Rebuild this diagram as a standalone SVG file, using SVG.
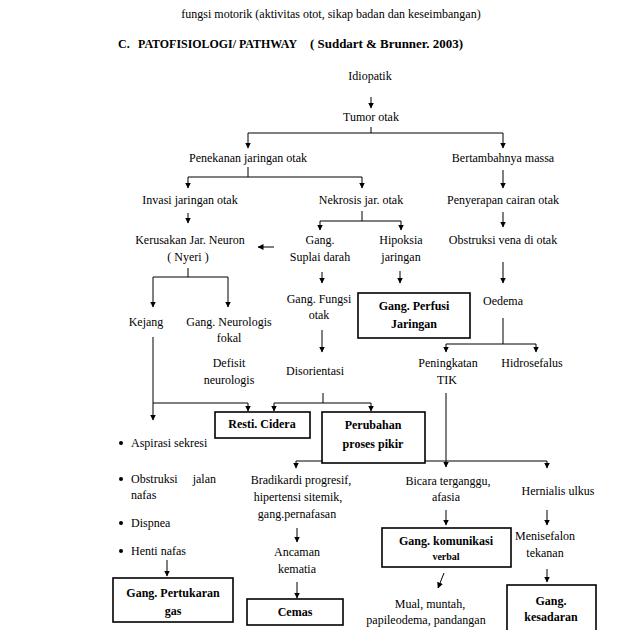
<svg xmlns="http://www.w3.org/2000/svg" width="638" height="630" viewBox="0 0 638 630">
<defs>
<marker id="ah" markerUnits="userSpaceOnUse" markerWidth="6" markerHeight="6" refX="5.5" refY="3" orient="auto"><path d="M0,0 L6,3 L0,6 z" fill="#000"/></marker>
<style>
text{font-family:"Liberation Serif","Times New Roman",serif;font-size:12px;fill:#000}
.c{text-anchor:middle}
.b{font-weight:bold}
.box{fill:#fff;stroke:#000;stroke-width:1.6}
.ln{stroke:#000;stroke-width:1;fill:none}
.ar{stroke:#000;stroke-width:1;fill:none;marker-end:url(#ah)}
</style>
</defs>
<rect width="638" height="630" fill="#fff"/>
<text x="331" y="18" class="c">fungsi motorik (aktivitas otot, sikap badan dan keseimbangan)</text>
<g id="title">
<text x="118" y="48" class="b">C.</text>
<text x="138" y="48" class="b" textLength="159" lengthAdjust="spacingAndGlyphs">PATOFISIOLOGI/ PATHWAY</text>
<text x="310" y="48" class="b" textLength="153" lengthAdjust="spacingAndGlyphs">( Suddart &amp; Brunner. 2003)</text>
</g>

<g id="connectors">
<line class="ar" x1="371" y1="97" x2="371" y2="108"/>
<polyline class="ln" points="371,127 371,133"/>
<line class="ln" x1="248" y1="133" x2="503" y2="133"/>
<line class="ar" x1="248" y1="133" x2="248" y2="148"/>
<line class="ar" x1="503" y1="133" x2="503" y2="148"/>
<line class="ln" x1="248" y1="167" x2="248" y2="177"/>
<line class="ln" x1="188" y1="177" x2="362" y2="177"/>
<line class="ar" x1="188" y1="177" x2="188" y2="188"/>
<line class="ar" x1="362" y1="177" x2="362" y2="188"/>
<line class="ar" x1="503" y1="170" x2="503" y2="188"/>
<line class="ar" x1="188" y1="213" x2="188" y2="223"/>
<line class="ln" x1="362" y1="211" x2="362" y2="221"/>
<line class="ln" x1="320" y1="221" x2="401" y2="221"/>
<line class="ar" x1="320" y1="221" x2="320" y2="230"/>
<line class="ar" x1="401" y1="221" x2="401" y2="230"/>
<line class="ar" x1="503" y1="212" x2="503" y2="227"/>
<line class="ar" x1="274" y1="247" x2="258" y2="247"/>
<line class="ln" x1="188" y1="268" x2="188" y2="277"/>
<line class="ln" x1="153" y1="277" x2="228" y2="277"/>
<line class="ar" x1="153" y1="277" x2="153" y2="307"/>
<line class="ar" x1="228" y1="277" x2="228" y2="307"/>
<line class="ar" x1="322" y1="272" x2="322" y2="283"/>
<line class="ar" x1="400" y1="271" x2="400" y2="283"/>
<line class="ar" x1="503" y1="262" x2="503" y2="283"/>
<line class="ar" x1="322" y1="330" x2="322" y2="352"/>
<line class="ln" x1="503" y1="318" x2="503" y2="344"/>
<line class="ln" x1="446" y1="344" x2="536" y2="344"/>
<line class="ar" x1="446" y1="344" x2="446" y2="352"/>
<line class="ar" x1="536" y1="344" x2="536" y2="352"/>
<line class="ar" x1="153" y1="337" x2="153" y2="420"/>
<line class="ln" x1="153" y1="403" x2="248" y2="403"/>
<line class="ar" x1="248" y1="403" x2="248" y2="411"/>
<line class="ln" x1="323" y1="393" x2="323" y2="403"/>
<line class="ln" x1="274" y1="403" x2="371" y2="403"/>
<line class="ar" x1="274" y1="403" x2="274" y2="411"/>
<line class="ar" x1="371" y1="403" x2="371" y2="411"/>
<line class="ar" x1="446" y1="393" x2="446" y2="467"/>
<line class="ln" x1="296" y1="461" x2="547" y2="461"/>
<line class="ar" x1="296" y1="461" x2="296" y2="468"/>
<line class="ar" x1="547" y1="461" x2="547" y2="468"/>
<line class="ar" x1="167" y1="560" x2="167" y2="576"/>
<line class="ar" x1="297" y1="528" x2="297" y2="542"/>
<line class="ar" x1="297" y1="582" x2="297" y2="598"/>
<line class="ar" x1="446" y1="510" x2="446" y2="525"/>
<line class="ar" x1="444" y1="573" x2="438" y2="588"/>
<line class="ar" x1="547" y1="510" x2="547" y2="525"/>
<line class="ar" x1="547" y1="569" x2="547" y2="582"/>
</g>

<g id="idiopatik"><text x="370" y="80" class="c">Idiopatik</text></g>
<g id="tumor-otak"><text x="371" y="121" class="c">Tumor otak</text></g>
<g id="penekanan"><text x="248" y="162" class="c">Penekanan jaringan otak</text></g>
<g id="bertambahnya"><text x="503" y="162" class="c">Bertambahnya massa</text></g>
<g id="invasi"><text x="190" y="204" class="c">Invasi jaringan otak</text></g>
<g id="nekrosis"><text x="361" y="204" class="c">Nekrosis jar. otak</text></g>
<g id="penyerapan"><text x="503" y="204" class="c">Penyerapan cairan otak</text></g>
<g id="kerusakan"><text x="190" y="244" class="c">Kerusakan Jar. Neuron</text><text x="188" y="261" class="c">( Nyeri )</text></g>
<g id="suplai"><text x="320" y="244" class="c">Gang.</text><text x="320" y="261" class="c">Suplai darah</text></g>
<g id="hipoksia"><text x="401" y="244" class="c">Hipoksia</text><text x="401" y="261" class="c">jaringan</text></g>
<g id="obstruksi-vena"><text x="503" y="244" class="c">Obstruksi vena di otak</text></g>
<g id="fungsi-otak"><text x="319" y="303" class="c">Gang. Fungsi</text><text x="319" y="319" class="c">otak</text></g>
<g id="perfusi"><rect class="box" x="358" y="293" width="112" height="45"/><text x="414" y="310" class="c b">Gang. Perfusi</text><text x="414" y="328" class="c b">Jaringan</text></g>
<g id="oedema"><text x="503" y="305" class="c">Oedema</text></g>
<g id="kejang"><text x="146" y="326" class="c">Kejang</text></g>
<g id="neurologis-fokal"><text x="229" y="326" class="c">Gang. Neurologis</text><text x="229" y="342" class="c">fokal</text></g>
<g id="defisit"><text x="229" y="367" class="c">Defisit</text><text x="229" y="384" class="c">neurologis</text></g>
<g id="disorientasi"><text x="315" y="375" class="c">Disorientasi</text></g>
<g id="peningkatan-tik"><text x="448" y="367" class="c">Peningkatan</text><text x="447" y="384" class="c">TIK</text></g>
<g id="hidrosefalus"><text x="532" y="367" class="c">Hidrosefalus</text></g>
<g id="resti"><rect class="box" x="215" y="412" width="95" height="26"/><text x="262" y="428" class="c b">Resti. Cidera</text></g>
<g id="perubahan"><rect class="box" x="322" y="412" width="103" height="51"/><text x="373" y="429" class="c b">Perubahan</text><text x="373" y="448" class="c b">proses pikir</text></g>
<g id="gejala-nafas">
<circle cx="121" cy="443" r="2"/><text x="131" y="447">Aspirasi sekresi</text>
<circle cx="121" cy="479" r="2"/><text x="131" y="483">Obstruksi</text><text x="216" y="483" text-anchor="end">jalan</text><text x="131" y="499">nafas</text>
<circle cx="121" cy="523" r="2"/><text x="131" y="527">Dispnea</text>
<circle cx="121" cy="551" r="2"/><text x="131" y="555">Henti nafas</text>
</g>
<g id="pertukaran-gas"><rect class="box" x="113" y="578" width="120" height="44"/><text x="173" y="597" class="c b">Gang. Pertukaran</text><text x="173" y="615" class="c b">gas</text></g>
<g id="bradikardi"><text x="301" y="484" class="c">Bradikardi progresif,</text><text x="298" y="501" class="c">hipertensi sitemik,</text><text x="297" y="518" class="c">gang.pernafasan</text></g>
<g id="ancaman"><text x="297" y="556" class="c">Ancaman</text><text x="297" y="573" class="c">kematia</text></g>
<g id="cemas"><rect class="box" x="247" y="599" width="96" height="26"/><text x="295" y="616" class="c b">Cemas</text></g>
<g id="bicara"><text x="448" y="485" class="c">Bicara terganggu,</text><text x="446" y="501" class="c">afasia</text></g>
<g id="komunikasi"><rect class="box" x="382" y="528" width="129" height="39"/><text x="446" y="545" class="c b">Gang. komunikasi</text><text x="446" y="560" class="c b" style="font-size:10px">verbal</text></g>
<g id="mual"><text x="430" y="608" class="c">Mual, muntah,</text><text x="426" y="624" class="c">papileodema, pandangan</text></g>
<g id="hernialis"><text x="558" y="495" class="c">Hernialis ulkus</text></g>
<g id="menisefalon"><text x="545" y="540" class="c">Menisefalon</text><text x="545" y="557" class="c">tekanan</text></g>
<g id="kesadaran"><rect class="box" x="507" y="585" width="89" height="55"/><text x="551" y="605" class="c b">Gang.</text><text x="551" y="621" class="c b">kesadaran</text></g>
</svg>
